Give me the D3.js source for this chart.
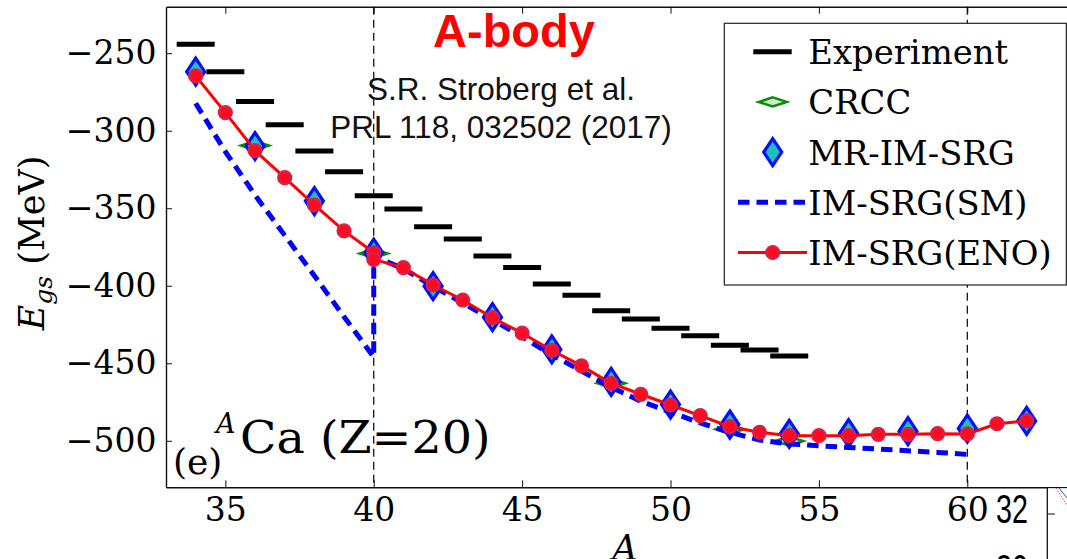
<!DOCTYPE html>
<html>
<head>
<meta charset="utf-8">
<script src="https://cdn.jsdelivr.net/npm/d3@7"></script>
<style>
  html, body { margin: 0; padding: 0; background: #fff; }
  svg { display: block; }
</style>
</head>
<body>
<svg id="chart" width="1067" height="559"></svg>
<script>
// Ground-state energies of calcium isotopes (MeV)
const expA = [34,35,36,37,38,39,40,41,42,43,44,45,46,47,48,49,50,51,52,53,54];
const expE = [-244.2,-261.9,-281.2,-296.1,-313.0,-326.4,-341.9,-350.5,-361.9,-369.8,
              -380.8,-388.3,-398.8,-406.1,-416.1,-421.4,-427.4,-432.2,-438.4,-441.4,-445.3];

const crccA = [36,40,48,52,54];
const crccE = [-309.6,-379.2,-462.9,-492.6,-500.2];

const mrA = [34,36,38,40,42,44,46,48,50,52,54,56,58,60,62];
const mrE = [-261.9,-309.9,-345.4,-378.7,-400.3,-420.3,-441.1,-462.0,-476.6,-489.5,
             -495.5,-495.1,-493.8,-492.1,-487.2];

// shell-model valence space: sd shell up to A=40, then fp shell from A=40
const smA = [34,35,36,37,38,39,40,40,41,42,43,44,45,46,47,48,49,50,51,52,53,54,55,56,57,58,59,60];
const smE = [-282.3,-313.5,-341.5,-367.5,-393.5,-420.0,-446.0,
             -381.0,-389.0,-400.5,-411.0,-422.0,-433.0,-444.5,-455.0,-465.5,-474.5,-481.5,
             -488.5,-494.5,-499.5,-502.0,-503.2,-504.3,-505.3,-506.4,-507.5,-508.8];

const enoA = [34,35,36,37,38,39,40,40,41,42,43,44,45,46,47,48,49,50,51,52,53,54,55,56,57,58,59,60,61,62];
const enoE = [-264.6,-288.3,-312.8,-330.3,-347.9,-364.6,-378.6,-383.0,-388.3,-399.5,-409.2,
              -420.6,-430.6,-441.6,-451.7,-462.9,-470.0,-476.9,-483.8,-490.9,-494.5,-496.7,
              -496.7,-496.7,-495.8,-495.8,-495.4,-495.6,-489.0,-487.2];

const xTicks = [35,40,45,50,55,60];
const yTicks = [-500,-450,-400,-350,-300,-250];
const shellClosures = [40,60];

const legendItems = ["Experiment","CRCC","MR-IM-SRG","IM-SRG(SM)","IM-SRG(ENO)"];

const SERIF = "'DejaVu Serif', serif";
const SANS = "'Liberation Sans', Arial, sans-serif";

const svg = d3.select("#chart");
const L = 166, R = 1086, T = 6.7, B = 487.3;
const x = d3.scaleLinear().domain([33, 64]).range([L, R]);
const y = d3.scaleLinear().domain([-530, -220]).range([B, T]);

const zip = (a, b) => a.map((v, i) => [v, b[i]]);

// vertical dashed guides at closed shells
svg.append("g").selectAll("line").data(shellClosures).join("line")
  .attr("x1", d => x(d)).attr("x2", d => x(d))
  .attr("y1", T).attr("y2", B)
  .attr("stroke", "#000").attr("stroke-width", 1.2)
  .attr("stroke-dasharray", "8,5");

// experiment: horizontal bars
svg.append("g").selectAll("line").data(zip(expA, expE)).join("line")
  .attr("x1", d => x(d[0]) - 19).attr("x2", d => x(d[0]) + 19)
  .attr("y1", d => y(d[1])).attr("y2", d => y(d[1]))
  .attr("stroke", "#000").attr("stroke-width", 5);

const diamond = (hw, hh) => `M0,${-hh}L${hw},0L0,${hh}L${-hw},0Z`;

// CRCC
svg.append("g").selectAll("path").data(zip(crccA, crccE)).join("path")
  .attr("transform", d => `translate(${x(d[0])},${y(d[1])})`)
  .attr("d", diamond(14, 4.5))
  .attr("fill", "#c9ecc9").attr("stroke", "#0a8a0a").attr("stroke-width", 2.5);

// MR-IM-SRG
svg.append("g").selectAll("path").data(zip(mrA, mrE)).join("path")
  .attr("transform", d => `translate(${x(d[0])},${y(d[1])})`)
  .attr("d", diamond(9, 13.5))
  .attr("fill", "#1fbfbf").attr("stroke", "#0010ff").attr("stroke-width", 3.2);

// IM-SRG(SM)
const line = d3.line().x(d => x(d[0])).y(d => y(d[1]));
svg.append("path").datum(zip(smA, smE))
  .attr("d", line)
  .attr("fill", "none").attr("stroke", "#0000ff").attr("stroke-width", 5)
  .attr("stroke-dasharray", "11.5,7");

// IM-SRG(ENO)
svg.append("path").datum(zip(enoA, enoE))
  .attr("d", line)
  .attr("fill", "none").attr("stroke", "#ff0000").attr("stroke-width", 3);
svg.append("g").selectAll("circle").data(zip(enoA, enoE)).join("circle")
  .attr("cx", d => x(d[0])).attr("cy", d => y(d[1])).attr("r", 6.5)
  .attr("fill", "#ff0a1e").attr("stroke", "#d9204a").attr("stroke-width", 2.2);

// axes
const fmt = d3.format("d");
const gx = svg.append("g").attr("transform", `translate(0,${B})`)
  .call(d3.axisBottom(x).tickValues(xTicks).tickFormat(fmt).tickSize(-7).tickSizeOuter(0).tickPadding(10));
const gxTop = svg.append("g").attr("transform", `translate(0,${T})`)
  .call(d3.axisTop(x).tickValues(xTicks).tickFormat("").tickSize(-7).tickSizeOuter(0));
const gy = svg.append("g").attr("transform", `translate(${L},0)`)
  .call(d3.axisLeft(y).tickValues(yTicks).tickFormat(fmt).tickSize(-6).tickSizeOuter(0).tickPadding(9.5));
const gyR = svg.append("g").attr("transform", `translate(${R},0)`)
  .call(d3.axisRight(y).tickValues(yTicks).tickFormat("").tickSize(-6).tickSizeOuter(0));
[gx, gxTop, gy, gyR].forEach(g => {
  g.select(".domain").attr("stroke", "#111").attr("stroke-width", 1.4);
  g.selectAll(".tick line").attr("stroke", "#111").attr("stroke-width", 1);
  g.selectAll("text").attr("font-family", SERIF).attr("font-size", 33).attr("fill", "#000");
});

// titles and annotations
svg.append("text").attr("x", 514).attr("y", 47).attr("text-anchor", "middle")
  .attr("font-family", SANS).attr("font-weight", "bold").attr("font-size", 47)
  .attr("fill", "#ff0000").text("A-body");
svg.append("text").attr("x", 501).attr("y", 100).attr("text-anchor", "middle")
  .attr("font-family", SANS).attr("font-size", 31.5).attr("fill", "#111")
  .text("S.R. Stroberg et al.");
svg.append("text").attr("x", 501).attr("y", 138).attr("text-anchor", "middle")
  .attr("font-family", SANS).attr("font-size", 31.5).attr("fill", "#111")
  .text("PRL 118, 032502 (2017)");

svg.append("text").attr("x", 173).attr("y", 474)
  .attr("font-family", SERIF).attr("font-size", 36).text("(e)");
svg.append("text").attr("x", 216).attr("y", 433)
  .attr("font-family", SERIF).attr("font-style", "italic").attr("font-size", 27).text("A");
svg.append("text").attr("transform", "translate(240,453.3) scale(1.07,1)")
  .attr("font-family", SERIF).attr("font-size", 44.5).text("Ca (Z=20)");

// axis titles
const yl = svg.append("text").attr("transform", "translate(44,243) rotate(-90)")
  .attr("text-anchor", "middle").attr("font-family", SERIF).attr("font-size", 35);
yl.append("tspan").attr("font-style", "italic").text("E");
yl.append("tspan").attr("font-style", "italic").attr("font-size", 25).attr("dy", 8).text("gs");
yl.append("tspan").attr("dy", -8).text(" (MeV)");

svg.append("text").attr("x", 625).attr("y", 560).attr("text-anchor", "middle")
  .attr("font-family", SERIF).attr("font-style", "italic").attr("font-size", 35).text("A");

// legend
const lg = svg.append("g");
lg.append("rect").attr("x", 724.3).attr("y", 23.3).attr("width", 342).attr("height", 261.7)
  .attr("fill", "#fff").attr("stroke", "#222").attr("stroke-width", 1.2);
const rowY = i => 51.7 + i * 50.2;
const hx = 772.7;
lg.selectAll("text").data(legendItems).join("text")
  .attr("x", 808.3).attr("y", (d, i) => rowY(i) + 12.5)
  .attr("font-family", SERIF).attr("font-size", 33.8).attr("fill", "#000").text(d => d);
lg.append("line").attr("x1", 753.3).attr("x2", 791.7).attr("y1", rowY(0)).attr("y2", rowY(0))
  .attr("stroke", "#000").attr("stroke-width", 5);
lg.append("path").attr("transform", `translate(${hx},${rowY(1)})`).attr("d", diamond(14, 4.5))
  .attr("fill", "#c9ecc9").attr("stroke", "#0a8a0a").attr("stroke-width", 2.5);
lg.append("path").attr("transform", `translate(${hx},${rowY(2)})`).attr("d", diamond(9, 13.5))
  .attr("fill", "#1fbfbf").attr("stroke", "#0010ff").attr("stroke-width", 3.2);
lg.append("line").attr("x1", 738).attr("x2", 807).attr("y1", rowY(3)).attr("y2", rowY(3))
  .attr("stroke", "#0000ff").attr("stroke-width", 5).attr("stroke-dasharray", "11.5,7");
lg.append("line").attr("x1", 738).attr("x2", 807).attr("y1", rowY(4)).attr("y2", rowY(4))
  .attr("stroke", "#ff0000").attr("stroke-width", 3);
lg.append("circle").attr("cx", hx).attr("cy", rowY(4)).attr("r", 6.5)
  .attr("fill", "#ff0a1e").attr("stroke", "#d9204a").attr("stroke-width", 2.2);

// neighbouring panel edge (bottom right)
const np = svg.append("g");
np.append("rect").attr("x", 1047.3).attr("y", B + 1).attr("width", 30).attr("height", 80).attr("fill", "#fff");
np.append("line").attr("x1", 1047.3).attr("x2", 1047.3).attr("y1", B).attr("y2", 559)
  .attr("stroke", "#111").attr("stroke-width", 1.3);
np.append("line").attr("x1", 1047.3).attr("x2", 1055).attr("y1", 514).attr("y2", 514)
  .attr("stroke", "#111").attr("stroke-width", 1);
np.append("line").attr("x1", 1056).attr("x2", 1067).attr("y1", 488).attr("y2", 505)
  .attr("stroke", "#ff3030").attr("stroke-width", 1).attr("stroke-dasharray", "1.5,1.5");
np.append("line").attr("x1", 1059).attr("x2", 1067).attr("y1", 488).attr("y2", 498)
  .attr("stroke", "#1f5fbf").attr("stroke-width", 1);
np.selectAll("text.nt").data(["32","30"]).join("text")
  .attr("transform", (d, i) => `translate(1028,${523.3 + i * 60}) scale(0.7,1)`)
  .attr("text-anchor", "end").attr("font-family", SANS).attr("font-size", 41).text(d => d);
</script>
</body>
</html>
